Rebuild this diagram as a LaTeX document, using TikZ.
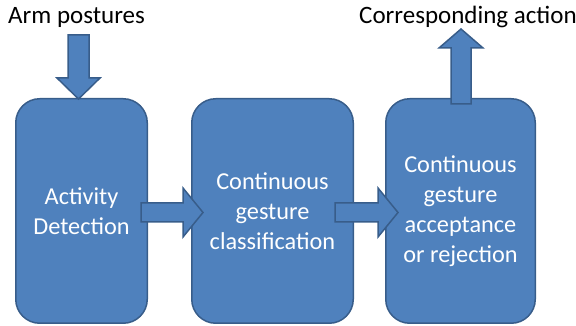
\documentclass[tikz,border=0pt]{standalone}
\usepackage{fontspec}
\setmainfont{Carlito}
\usetikzlibrary{calc}
\definecolor{boxfill}{HTML}{4F81BD}
\definecolor{boxline}{HTML}{385D8A}
\tikzset{
  stage/.style={draw=boxline, line width=1.5pt, fill=boxfill, rounded corners=24pt,
    text=white, align=center, inner sep=0pt,
    font=\fontsize{24.3}{30}\selectfont},
  label/.style={inner sep=0pt, anchor=base west, font=\fontsize{25}{28}\selectfont},
  blk/.style={draw=boxline, line width=1.5pt, fill=boxfill, line join=miter},
  % block arrow along +x: {length}{shaft half width}{head half width}{head length}
  pics/blockarrow/.style n args={4}{code={
    \draw[blk] (0,-#2) -- ({#1-#4},-#2) -- ({#1-#4},-#3) -- (#1,0)
      -- ({#1-#4},#3) -- ({#1-#4},#2) -- (0,#2) -- cycle;
  }}
}
\begin{document}
\begin{tikzpicture}[x=1pt, y=1pt]
\useasboundingbox (0,0) rectangle (576,326);

% processing stages
\node[stage, minimum width=131.5pt, minimum height=224.5pt] (act) at (81.5,115)
  {Activity\\Detection};
\node[stage, minimum width=161.5pt, minimum height=224.5pt] (cls) at (272.5,115)
  {Continuous\\gesture\\classification};
\node[stage, minimum width=149.5pt, minimum height=224.5pt] (acc) at (460.5,115)
  {Continuous\\gesture\\acceptance\\or rejection};

% input and output labels
\node[label] (in)  at (8,302)   {Arm postures};
\node[label] (out) at (359,302) {Corresponding action};

% input arrow into the first stage
\pic[rotate=-90] at ($(act.north)+(-3,63)$) {blockarrow={64}{10.5}{21.5}{21}};
% arrows between stages
\pic at ($(act.east)+(-7,-1.5)$) {blockarrow={62}{9.5}{24.5}{20}};
\pic at ($(cls.east)+(-19,-1.5)$) {blockarrow={63}{9.5}{24.5}{20}};
% output arrow from the last stage
\pic[rotate=90] at ($(acc.north)+(0.5,-6)$) {blockarrow={75}{10}{22}{19}};
\end{tikzpicture}
\end{document}
